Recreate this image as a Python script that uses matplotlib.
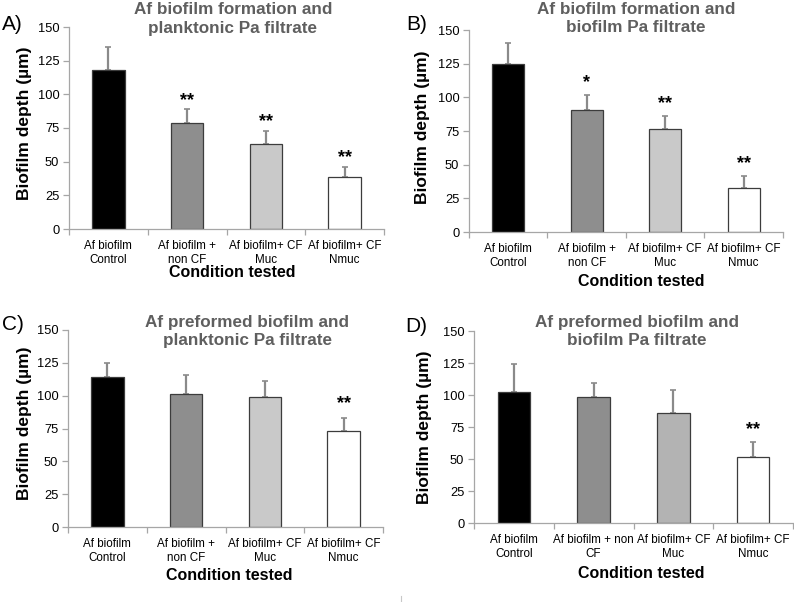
import matplotlib
matplotlib.use("Agg")
import matplotlib.pyplot as plt
import numpy as np

plt.rcParams['font.family'] = ['Liberation Sans', 'DejaVu Sans']

categories_abc = ["Af biofilm\nControl", "Af biofilm +\nnon CF", "Af biofilm+ CF\nMuc", "Af biofilm+ CF\nNmuc"]
categories_d = ["Af biofilm\nControl", "Af biofilm + non\nCF", "Af biofilm+ CF\nMuc", "Af biofilm+ CF\nNmuc"]

values_a = [118, 79, 63, 38.5]
errors_a = [17, 10, 10, 7.8]
stars_a = ["", "**", "**", "**"]

values_b = [125, 90.5, 76.5, 33]
errors_b = [15.5, 11.2, 9.7, 8.3]
stars_b = ["", "*", "**", "**"]

values_c = [114.5, 101.5, 99, 73]
errors_c = [10.2, 14, 12.4, 10.2]
stars_c = ["", "", "", "**"]

values_d = [102.7, 98.5, 86.3, 51.7]
errors_d = [21.3, 10.7, 17.4, 11.2]
stars_d = ["", "", "", "**"]

colors_abc = ["#000000", "#8e8e8e", "#c9c9c9", "#ffffff"]
colors_d = ["#000000", "#8e8e8e", "#b3b3b3", "#ffffff"]

titles = ["Af biofilm formation and\nplanktonic Pa filtrate",
          "Af biofilm formation and\nbiofilm Pa filtrate",
          "Af preformed biofilm and\nplanktonic Pa filtrate",
          "Af preformed biofilm and\nbiofilm Pa filtrate"]
panel_labels = ["A)", "B)", "C)", "D)"]
yticks = [0, 25, 50, 75, 100, 125, 150]

W, H = 794, 602
fig = plt.figure(figsize=(W / 100, H / 100), dpi=100)

# pixel boxes: left, right, top(150), bottom(0)
boxes = [(69, 384, 27, 229), (469, 783, 30, 232), (68, 383, 330, 527), (474, 793, 331, 523)]
title_pos = [(233, 19), (636, 19), (247, 332), (637, 332)]
label_pos = [(2, 25), (406, 25), (2, 325), (405, 326)]
ylab_pos = [(25, 123), (423, 127), (25, 423), (425, 427)]
xlab_pos = [(232, 273), (641, 281), (229, 576), (641, 573)]
star_gap_px = [12.5, 16, 18, 16.5]

panels = [
    (values_a, errors_a, stars_a, categories_abc, colors_abc),
    (values_b, errors_b, stars_b, categories_abc, colors_abc),
    (values_c, errors_c, stars_c, categories_abc, colors_abc),
    (values_d, errors_d, stars_d, categories_d, colors_d),
]

axis_col = "#a6a6a6"
for i, (vals, errs, stars, cats, cols) in enumerate(panels):
    l, r, t, b = boxes[i]
    ax = fig.add_axes([l / W, 1 - b / H, (r - l) / W, (b - t) / H])
    x = np.arange(len(vals))
    ax.bar(x, vals, width=0.41, color=cols, edgecolor="#3c3c3c", linewidth=0.9, zorder=2)
    ax.errorbar(x, vals, yerr=[np.zeros(len(errs)), errs], fmt="none",
                ecolor="#8a8a8a", elinewidth=1.6, capsize=2.5, capthick=1.2, zorder=1)
    for xi, v, e, s in zip(x, vals, errs, stars):
        if s:
            ax.annotate(s, (xi, v + e), xytext=(0, star_gap_px[i] * 0.72 - 2.5),
                        textcoords="offset points", ha="center", va="center",
                        fontsize=13, fontweight="bold")
    ax.set_xlim(-0.5, 3.5)
    ax.set_ylim(0, 150)
    ax.set_yticks(yticks)
    ax.set_yticklabels([str(v) for v in yticks], fontsize=9.3)
    ax.set_xticks(x)
    ax.set_xticklabels(cats, fontsize=8.4)
    ax.set_xticks(np.arange(-0.5, 4.0, 1.0), minor=True)
    ax.tick_params(axis="x", which="major", length=0, pad=8)
    ax.tick_params(axis="x", which="minor", length=4, color=axis_col, width=0.9)
    ax.tick_params(axis="y", length=4, color=axis_col, width=0.9, pad=3)
    for sp in ["top", "right"]:
        ax.spines[sp].set_visible(False)
    for sp in ["left", "bottom"]:
        ax.spines[sp].set_color(axis_col)
        ax.spines[sp].set_linewidth(0.9)
    ax.patch.set_alpha(0)

    tx, ty = title_pos[i]
    fig.text(tx / W, 1 - ty / H, titles[i], ha="center", va="center", fontsize=12.3,
             fontweight="bold", color="#5f5f5f", linespacing=1.25)
    px, py = label_pos[i]
    fig.text(px / W, 1 - py / H, panel_labels[i], ha="left", va="center", fontsize=15)
    yx, yy = ylab_pos[i]
    fig.text(yx / W, 1 - yy / H, "Biofilm depth (µm)", ha="center", va="center",
             rotation=90, fontsize=12.5, fontweight="bold")
    xx, xy = xlab_pos[i]
    fig.text(xx / W, 1 - xy / H, "Condition tested", ha="center", va="center",
             fontsize=11.5, fontweight="bold")

fig.add_artist(plt.Line2D([400.5 / W, 400.5 / W], [1 - 596 / H, 1 - 602 / H],
                          color="#c8c8c8", linewidth=0.8))

fig.savefig("out.png", dpi=100)
